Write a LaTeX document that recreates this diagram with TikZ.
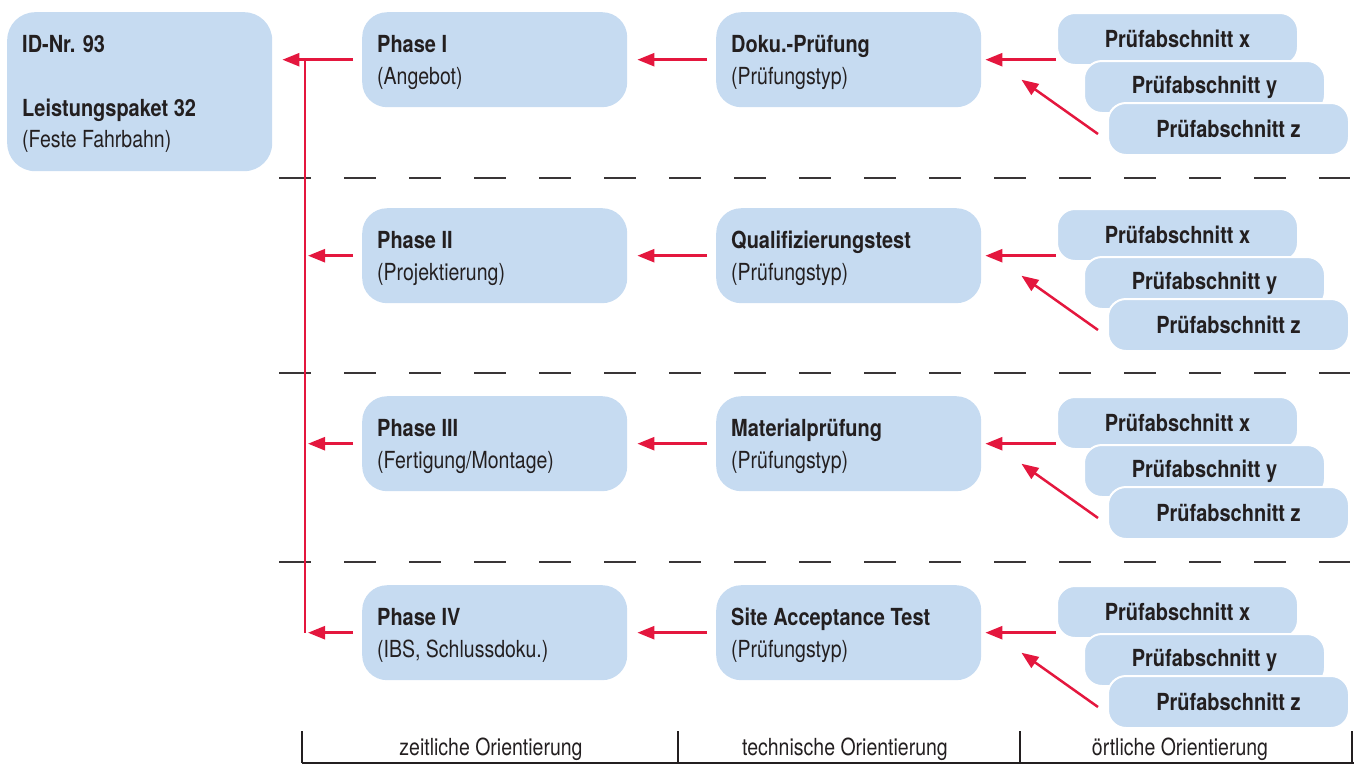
\documentclass[tikz,border=0pt]{standalone}
\usepackage{fontspec}
\setmainfont{TeX Gyre Heros}[FakeStretch=0.83, BoldFeatures={FakeStretch=0.85}]
\usetikzlibrary{arrows.meta}
\definecolor{boxblue}{HTML}{C6DBF1}
\definecolor{linkred}{HTML}{E4173E}
\definecolor{ink}{HTML}{231F20}

\begin{document}
\begin{tikzpicture}[x=1pt,y=-1pt,
  font=\fontsize{23.5}{32}\selectfont, text=ink,
  bigbox/.style={fill=boxblue, rounded corners=25pt, inner sep=0pt, anchor=north west,
    minimum width=265pt, minimum height=95pt},
  idbox/.style={bigbox, rounded corners=28pt, minimum height=159pt},
  partbox/.style={fill=boxblue, draw=white, line width=2pt, rounded corners=18pt,
    inner sep=0pt, anchor=north west, minimum width=241pt, minimum height=52pt,
    font=\fontsize{23.5}{32}\selectfont\bfseries},
  lbl/.style={anchor=base west, inner sep=0pt},
  arr/.style={draw=linkred, line width=2.5pt, -{Triangle[length=17pt,width=13pt]}},
  trunkline/.style={draw=linkred, line width=2.5pt},
  sepline/.style={draw=ink!90, line width=1.4pt, dash pattern=on 32pt off 33pt},
  axis/.style={draw=ink, line width=1.3pt},
]
\useasboundingbox (0,0) rectangle (1354,764);

% project box
\node[idbox] (id) at (7,12) {};
\node[lbl] (idnr) at (22,52) {\bfseries ID-Nr. 93};
\node[lbl] (lp) at (22,116) {\bfseries Leistungspaket 32};
\node[lbl] (lpsub) at (22,147) {(Feste Fahrbahn)};

% separators between the phases
\foreach \yy [count=\k] in {178,373,562}
  \draw[sepline] (279,\yy) coordinate (sa\k) -- (1350,\yy) coordinate (sb\k);

% one row per phase
\foreach \r/\off/\pn/\ps/\tn in {
    1/0/{Phase I}/{(Angebot)}/{Doku.-Prüfung},
    2/196/{Phase II}/{(Projektierung)}/{Qualifizierungstest},
    3/384/{Phase III}/{(Fertigung/Montage)}/{Materialprüfung},
    4/573/{Phase IV}/{(IBS, Schlussdoku.)}/{Site Acceptance Test}} {
  \node[bigbox] (p\r) at (362,12+\off) {};
  \node[lbl] (p\r h) at (377,52+\off) {\bfseries \pn};
  \node[lbl] (p\r s) at (377,84+\off) {\ps};
  \node[bigbox] (t\r) at (716,12+\off) {};
  \node[lbl] (t\r h) at (731,52+\off) {\bfseries \tn};
  \node[lbl] (t\r s) at (731,84+\off) {(Prüfungstyp)};
  \node[partbox] (x\r) at (1056,12+\off) {Prüfabschnitt x};
  \node[partbox] (y\r) at (1083,60+\off) {Prüfabschnitt y};
  \node[partbox] (z\r) at (1107,102+\off) {Prüfabschnitt z};
  % connectors
  \draw[arr, shorten <=9pt, shorten >=10pt] (t\r.west) -- (p\r.east |- t\r.west);
  \draw[arr, shorten >=4pt] (x\r.west |- t\r.east) -- (t\r.east);
  \draw[arr] ([shift={(-9,5)}]z\r.west) -- ([shift={(40,20)}]t\r.east);
}

% phases feed the project box
\coordinate (trunktop) at (305,59.5);
\coordinate (trunkbot) at (305,632.5);
\draw[trunkline] (trunktop) -- (trunkbot);
\draw[arr, shorten <=9pt, shorten >=10pt] (p1.west) -- (p1.west -| id.east);
\foreach \r in {2,3,4}
  \draw[arr, shorten <=9pt, shorten >=3pt] (p\r.west) -- (p\r.west -| trunktop);

% orientation axis
\coordinate (a0) at (302,763);
\coordinate (a1) at (678,763);
\coordinate (a2) at (1020,763);
\coordinate (a3) at (1352,763);
\draw[axis] (a0) -- (1354,763);
\foreach \k in {0,1,2,3}
  \draw[axis] (a\k) -- ++(0,-32);
\node[anchor=base, inner sep=0pt] (oz) at (491,755) {zeitliche Orientierung};
\node[anchor=base, inner sep=0pt] (ot) at (845,755) {technische Orientierung};
\node[anchor=base, inner sep=0pt] (oo) at (1180,755) {örtliche Orientierung};
\end{tikzpicture}
\end{document}
